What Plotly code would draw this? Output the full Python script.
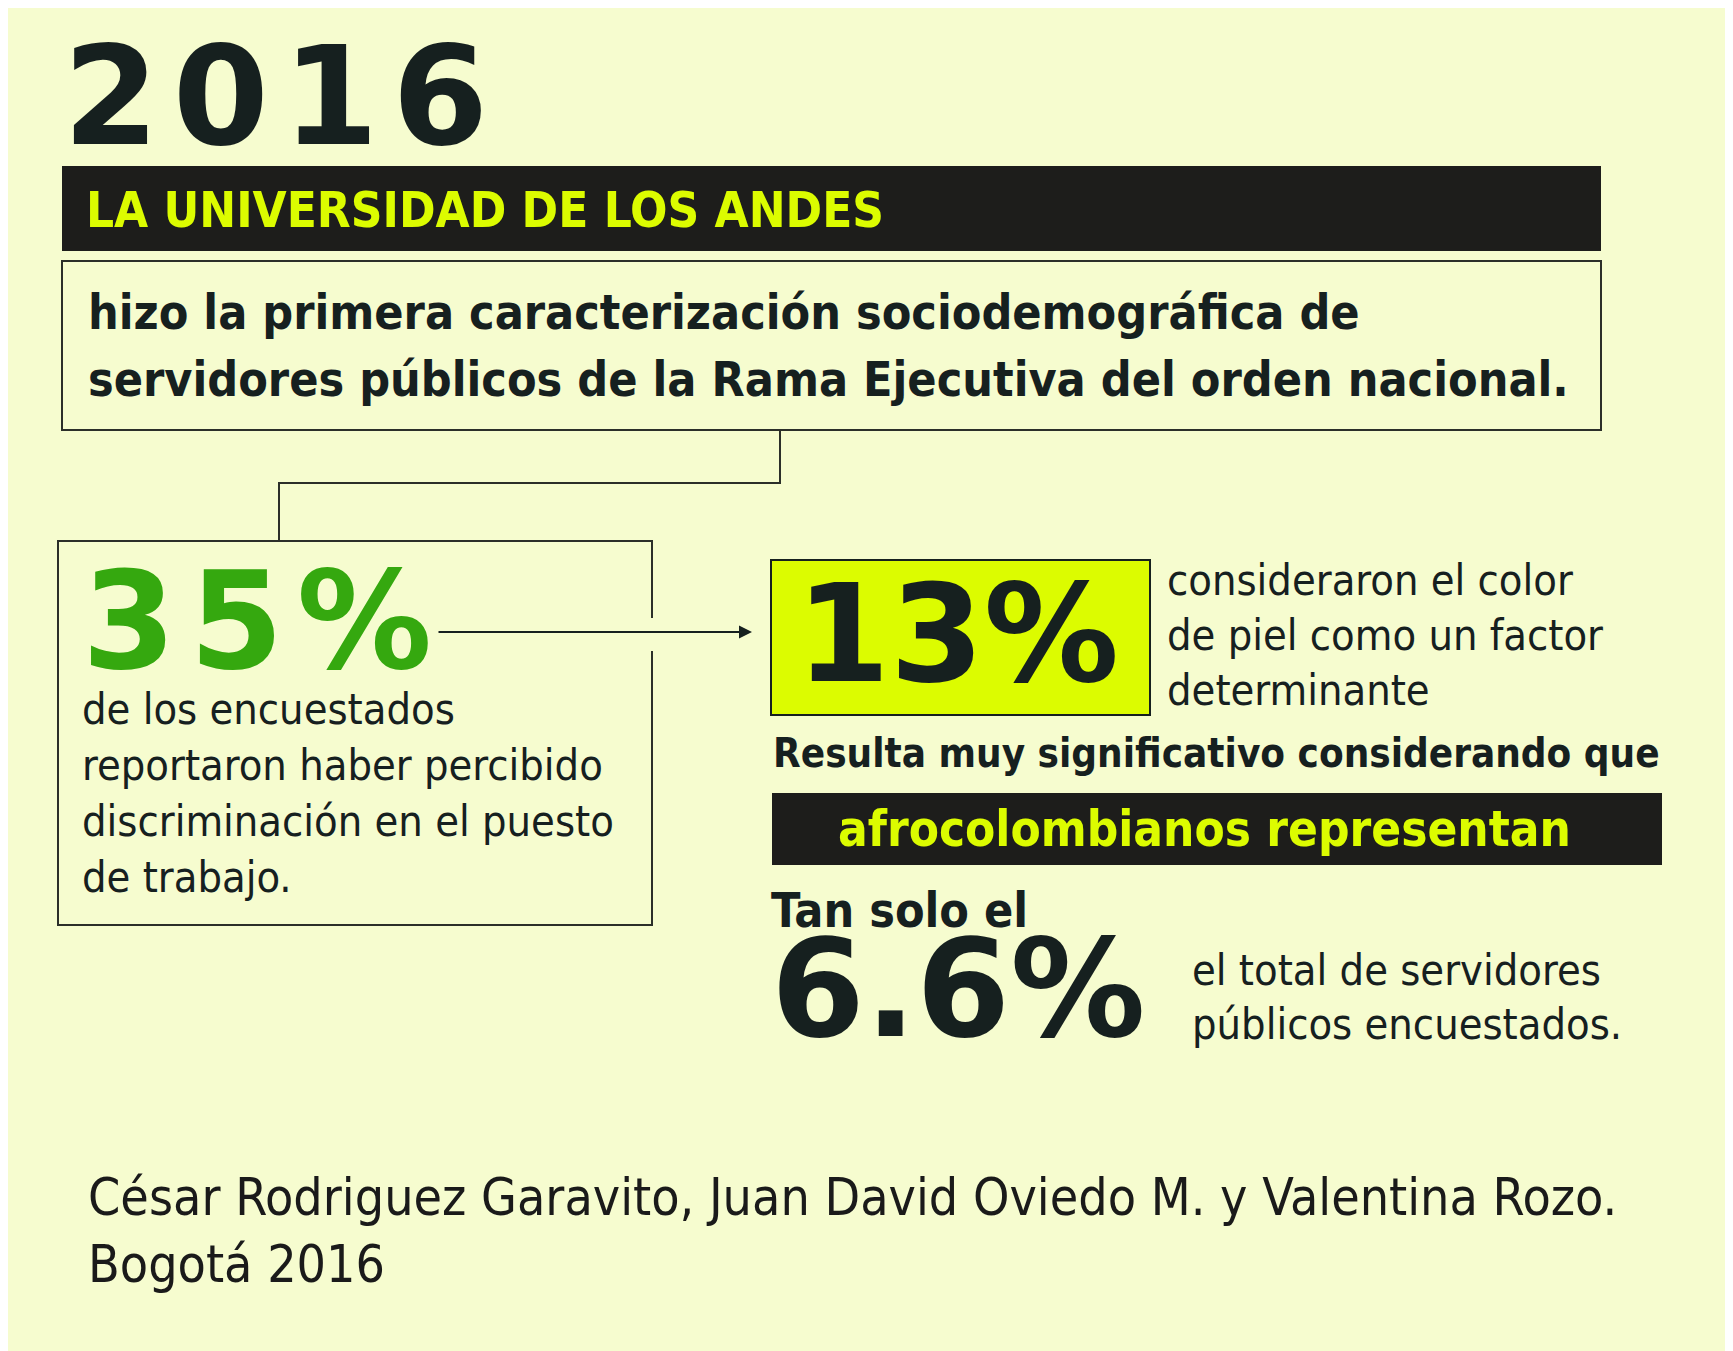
import plotly.graph_objects as go

W, H = 1733, 1351
OFF = 8  # page body margin, so data coordinates equal screenshot pixels
BG = "#f6fccf"
DARK = "#16201f"
BAR = "#1d1d1b"
LIME = "#dcfc00"
GREEN = "#35a80f"

NARROW = "Liberation Sans Narrow, DejaVu Sans Condensed, Roboto Condensed, Arial Narrow, sans-serif"
WIDE = "DejaVu Sans, Verdana, sans-serif"

year = "2016"
headline = "LA UNIVERSIDAD DE LOS ANDES"
intro_lines = ["hizo la primera caracterización sociodemográfica de",
               "servidores públicos de la Rama Ejecutiva del orden nacional."]
stat_values = ["35%", "13%", "6.6%"]
stat1_lines = ["de los encuestados", "reportaron haber percibido",
               "discriminación en el puesto", "de trabajo."]
stat2_lines = ["consideraron el color", "de piel como un factor", "determinante"]
bridge_text = "Resulta muy significativo considerando que"
bar_text = "afrocolombianos representan"
lead_text = "Tan solo el"
stat3_lines = ["el total de servidores", "públicos encuestados."]
credit_lines = ["César Rodriguez Garavito, Juan David Oviedo M. y Valentina Rozo.",
                "Bogotá 2016"]


def spaced(s, sp):
    return sp.join(list(s))


def span(s, size, family=None, weight=None, color=None):
    st = ["font-size:%dpx" % size]
    if family:
        st.append("font-family:%s" % family.split(",")[0].strip())
    if weight:
        st.append("font-weight:%s" % weight)
    if color:
        st.append("color:%s" % color)
    return "<span style='%s'>%s</span>" % (";".join(st), s)


fig = go.Figure()
fig.add_trace(go.Scatter(x=[OFF, W + OFF], y=[OFF, H + OFF], mode="markers",
                         marker=dict(opacity=0), hoverinfo="skip", showlegend=False))

shapes = []
def rect(x0, y0, x1, y1, fill=None, line=None, lw=2):
    shapes.append(dict(type="rect", x0=x0, y0=y0, x1=x1, y1=y1, xref="x", yref="y",
                       fillcolor=fill if fill else "rgba(0,0,0,0)",
                       line=dict(color=line if line else "rgba(0,0,0,0)", width=lw if line else 0),
                       layer="below"))
def path(p, lw=2, color="#2b2f29"):
    shapes.append(dict(type="path", path=p, xref="x", yref="y",
                       line=dict(color=color, width=lw), layer="below"))

rect(62, 166, 1601, 251, fill=BAR)
rect(62, 261, 1601, 430, line="#2b2f29", lw=2)
path("M 780 430 V 483 H 279 V 541")
path("M 652 618 V 541 H 58 V 925 H 652 V 651")
rect(771, 560, 1150, 715, fill=LIME, line=DARK, lw=2)
rect(772, 793, 1662, 865, fill=BAR)

ann = []
def txt(x, baseline, s, size, color=DARK, family=NARROW, weight="normal", xanchor="left"):
    ann.append(dict(x=x, y=baseline - 0.35 * size, xref="x", yref="y", text=s,
                    showarrow=False, xanchor=xanchor, yanchor="middle",
                    font=dict(size=size, color=color, family=family, weight=weight)))

def block(x, first_baseline, first_size, s, base_size, color=DARK):
    # multi-line block anchored at the top of its first line; lines are 1.3*base_size apart
    ann.append(dict(x=x, y=first_baseline - 0.928 * first_size - 2, xref="x", yref="y",
                    text=s, showarrow=False, xanchor="left", yanchor="top", align="left",
                    font=dict(size=base_size, color=color, family=NARROW)))

BIG = 135
txt(61, 145, spaced(year, "\u200a"), 138, family=WIDE, weight="bold")
txt(84, 228, headline, 49, color=LIME, weight="bold")
txt(86, 329, intro_lines[0], 48, weight="bold")
txt(86, 396, intro_lines[1], 48, weight="bold")

# 35% block
block(80, 668, BIG,
      span(spaced(stat_values[0], "\u200a"), BIG, WIDE, "bold", GREEN) + "<br>"
      + "<br>".join(stat1_lines), 43)

txt(794, 682, stat_values[1], BIG, family=WIDE, weight="bold")
for i, s in enumerate(stat2_lines):
    txt(1165, 595 + 55 * i, s, 43)

txt(771, 767, bridge_text, 40, weight="bold")
txt(1204, 847, bar_text, 49, color=LIME, weight="bold", xanchor="center")

# "Tan solo el" + 6.6% block
block(769, 927, 48,
      span(lead_text, 48, weight="bold") + "<br>"
      + span(stat_values[2], BIG, WIDE, "bold"), 84)
for i, s in enumerate(stat3_lines):
    txt(1190, 985 + 54 * i, s, 43)

for i, s in enumerate(credit_lines):
    txt(86, 1215 + 67 * i, s, 51.5, color="#1a1a1a")

# arrow from the 35% box to the 13% box
ann.append(dict(x=752, y=632, ax=437, ay=632, xref="x", yref="y", axref="x", ayref="y",
                text="", showarrow=True, arrowhead=2, arrowsize=1.3, arrowwidth=2,
                arrowcolor=DARK))

fig.update_layout(
    width=W, height=H, margin=dict(l=0, r=0, t=0, b=0),
    paper_bgcolor=BG, plot_bgcolor=BG,
    xaxis=dict(range=[OFF, W + OFF], visible=False, fixedrange=True),
    yaxis=dict(range=[H + OFF, OFF], visible=False, fixedrange=True),
    shapes=shapes, annotations=ann, showlegend=False,
)
fig.write_html("out.html", config={"displayModeBar": False})
